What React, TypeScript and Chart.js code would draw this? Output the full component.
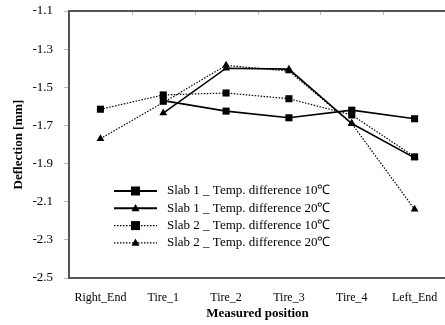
import React, { useEffect, useRef } from "react";
import { Chart, registerables } from "chart.js";

Chart.register(...registerables);

const categories = ["Right_End", "Tire_1", "Tire_2", "Tire_3", "Tire_4", "Left_End"];
const slab1Temp10 = [null, -1.57, -1.625, -1.66, -1.62, -1.665];
const slab1Temp20 = [null, -1.635, -1.4, -1.405, -1.69, -1.87];
const slab2Temp10 = [-1.615, -1.54, -1.53, -1.56, -1.645, -1.865];
const slab2Temp20 = [-1.77, -1.58, -1.385, -1.415, -1.69, -2.14];
const seriesNames = [
  "Slab 1 _ Temp. difference 10\u2103",
  "Slab 1 _ Temp. difference 20\u2103",
  "Slab 2 _ Temp. difference 10\u2103",
  "Slab 2 _ Temp. difference 20\u2103",
];
const yMin = -2.5;
const yMax = -1.1;
const yStep = 0.2;

const FONT = "'Liberation Serif', 'Times New Roman', serif";
const DOT: number[] = [1.5, 1.5];

function drawMarker(ctx: CanvasRenderingContext2D, style: string, x: number, y: number, s: number) {
  ctx.beginPath();
  if (style === "rect") {
    ctx.rect(x - s / 2, y - s / 2, s, s);
  } else {
    const h = s * 0.9;
    ctx.moveTo(x, y - h * 0.6);
    ctx.lineTo(x + s / 2, y + h * 0.4);
    ctx.lineTo(x - s / 2, y + h * 0.4);
    ctx.closePath();
  }
  ctx.fillStyle = "#000";
  ctx.fill();
}

const frameAndLegend = {
  id: "frameAndLegend",
  afterDatasetsDraw(chart: any) {
    const { ctx, chartArea } = chart;
    const xs = chart.scales.x;
    ctx.save();
    ctx.strokeStyle = "#bbb";
    ctx.lineWidth = 1;
    for (let i = 0; i < categories.length - 1; i++) {
      const bx = Math.round((xs.getPixelForValue(i) + xs.getPixelForValue(i + 1)) / 2) + 0.5;
      ctx.beginPath();
      ctx.moveTo(bx, chartArea.top);
      ctx.lineTo(bx, chartArea.top + 4);
      ctx.stroke();
    }
    ctx.strokeStyle = "#555";
    ctx.lineWidth = 2;
    ctx.strokeRect(chartArea.left, chartArea.top, chartArea.right - chartArea.left, chartArea.bottom - chartArea.top);
    const styles = ["rect", "triangle", "rect", "triangle"];
    const dashed = [false, false, true, true];
    const sizes = [9, 8, 9, 8];
    const x0 = chartArea.left + 45;
    const x1 = chartArea.left + 88;
    const tx = chartArea.left + 98;
    ctx.font = "13px " + FONT;
    ctx.textBaseline = "middle";
    ctx.textAlign = "left";
    for (let i = 0; i < 4; i++) {
      const y = chartArea.top + 180 + i * 17.3;
      ctx.beginPath();
      ctx.setLineDash(dashed[i] ? DOT : []);
      ctx.lineWidth = dashed[i] ? 1.2 : 2;
      ctx.strokeStyle = "#000";
      ctx.moveTo(x0, y);
      ctx.lineTo(x1, y);
      ctx.stroke();
      ctx.setLineDash([]);
      drawMarker(ctx, styles[i], (x0 + x1) / 2, y, sizes[i]);
      ctx.fillStyle = "#000";
      ctx.fillText(seriesNames[i], tx, y);
    }
    ctx.restore();
  },
};

export default function App() {
  const ref = useRef<HTMLCanvasElement>(null);
  useEffect(() => {
    document.body.style.margin = "0";
    document.body.style.overflow = "hidden";
    const mk = (label: string, data: any[], style: string, dashed: boolean) => ({
      label,
      data,
      borderColor: "#000",
      backgroundColor: "#000",
      borderWidth: dashed ? 1.2 : 1.6,
      borderDash: dashed ? DOT : [],
      pointStyle: style,
      pointRadius: style === "rect" ? 5 : 4.5,
      pointBackgroundColor: "#000",
      pointBorderColor: "#000",
      pointBorderWidth: 0,
      tension: 0,
      spanGaps: false,
    });
    const chart = new Chart(ref.current!, {
      type: "line",
      data: {
        labels: categories,
        datasets: [
          mk(seriesNames[0], slab1Temp10, "rect", false),
          mk(seriesNames[1], slab1Temp20, "triangle", false),
          mk(seriesNames[2], slab2Temp10, "rect", true),
          mk(seriesNames[3], slab2Temp20, "triangle", true),
        ],
      },
      options: {
        responsive: false,
        animation: false,
        layout: { padding: { top: 11, right: 1, left: 0, bottom: 0 } },
        plugins: { legend: { display: false }, tooltip: { enabled: false } },
        scales: {
          x: {
            type: "category",
            offset: true,
            grid: { display: false, drawTicks: false },
            border: { display: false },
            ticks: { color: "#000", font: { family: FONT, size: 12 }, padding: 13, maxRotation: 0, autoSkip: false },
            title: {
              display: true,
              text: "Measured position",
              color: "#000",
              font: { family: FONT, size: 13, weight: "bold" },
              padding: { top: 0, bottom: 4 },
            },
            afterFit: (s: any) => {
              s.height = 47;
              s.paddingLeft = 0;
              s.paddingRight = 0;
            },
          },
          y: {
            min: yMin,
            max: yMax,
            grid: { drawOnChartArea: false, drawTicks: true, tickLength: 5, color: "#bbb" },
            border: { display: false },
            ticks: {
              stepSize: yStep,
              color: "#000",
              font: { family: FONT, size: 13 },
              padding: 11,
              callback: (v: any) => Number(v).toFixed(1),
            },
            title: {
              display: true,
              text: "Deflection [mm]",
              color: "#000",
              font: { family: FONT, size: 13, weight: "bold" },
              padding: { top: 11, bottom: 0 },
            },
            afterFit: (s: any) => {
              s.width = 69;
              s.paddingTop = 0;
              s.paddingBottom = 0;
            },
          },
        },
      },
      plugins: [frameAndLegend],
    } as any);
    return () => chart.destroy();
  }, []);
  return (
    <div style={{ width: 445, height: 325, overflow: "hidden" }}>
      <canvas ref={ref} width={451} height={325} style={{ display: "block" }} />
    </div>
  );
}
